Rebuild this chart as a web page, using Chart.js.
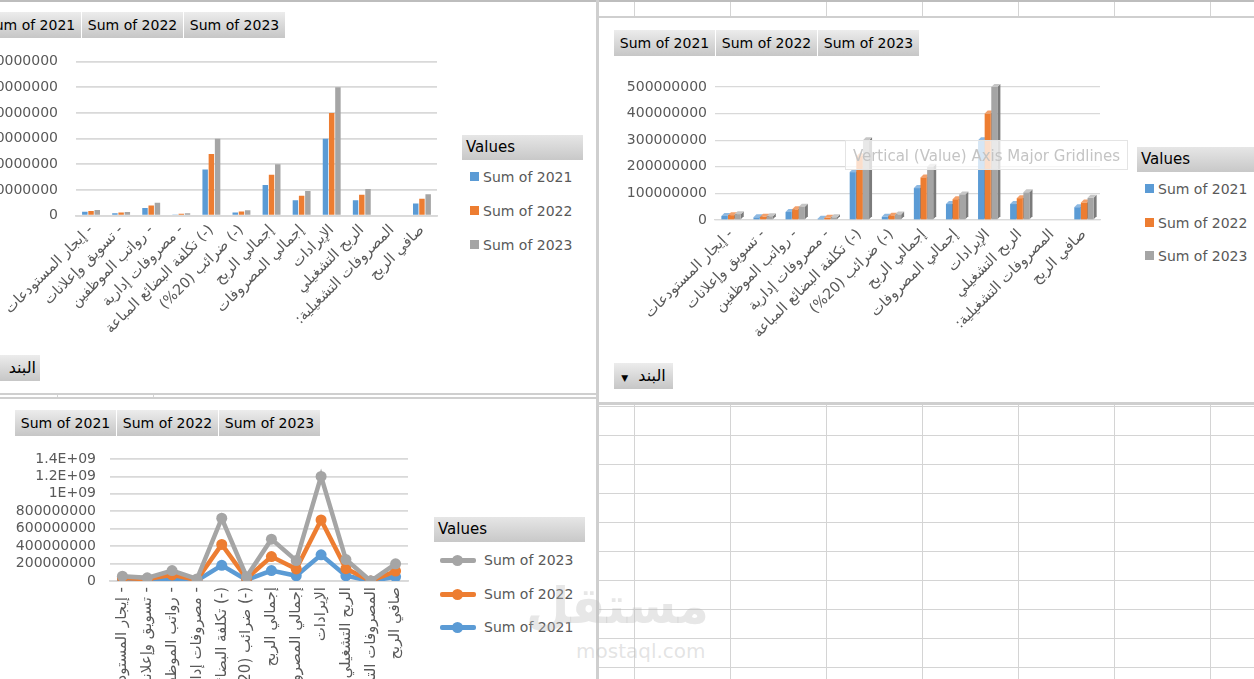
<!DOCTYPE html>
<html lang="ar">
<head>
<meta charset="utf-8">
<title>Pivot charts</title>
<script src="https://cdn.jsdelivr.net/npm/chart.js@4.4.1/dist/chart.umd.min.js"></script>
<style>
  html, body { margin: 0; padding: 0; }
  body {
    width: 1254px; height: 679px; position: relative; overflow: hidden;
    background: #fff; font-family: "DejaVu Sans", sans-serif;
  }
  .abs { position: absolute; }
  .line { position: absolute; background: #d4d4d4; }
  .btn {
    position: absolute; height: 26px; line-height: 26px; font-size: 14px; color: #000;
    background: linear-gradient(#ececec, #c6c6c6); white-space: nowrap;
    box-sizing: border-box; text-align: center;
  }
  .legend-head {
    position: absolute; height: 25px; line-height: 25px; font-size: 15px; color: #000;
    background: linear-gradient(#e6e6e6, #c8c8c8); padding-left: 4px; box-sizing: border-box;
  }
  .legend-item { position: absolute; font-size: 14px; color: #595959; white-space: nowrap; line-height: 18px; }
  .swatch { display: inline-block; width: 9px; height: 9px; margin-right: 4px; vertical-align: 1px; }
  .lineicon { display: inline-block; position: relative; width: 36px; height: 18px; vertical-align: top; margin-right: 8px; }
  .lineicon i { position: absolute; left: 0; top: 7px; width: 36px; height: 5px; border-radius: 2px; }
  .lineicon b { position: absolute; left: 12px; top: 4px; width: 11px; height: 11px; border-radius: 50%; }
  canvas { position: absolute; }
</style>
</head>
<body>

<div id="grid"></div>

<canvas id="barChart" dir="rtl" width="490" height="330" style="left:-40px; top:40px;"></canvas>
<canvas id="bar3dChart" dir="rtl" width="510" height="310" style="left:600px; top:70px;"></canvas>
<canvas id="lineChart" dir="rtl" width="420" height="260" style="left:0px; top:445px;"></canvas>

<div id="overlay"></div>

<script>
// Data
const categories = [
  '- إيجار المستودعات',
  '- تسويق وإعلانات',
  '- رواتب الموظفين',
  '- مصروفات إدارية',
  '(-) تكلفة البضائع المباعة',
  '(-) ضرائب (20%)',
  'إجمالي الربح',
  'إجمالي المصروفات',
  'الإيرادات',
  'الربح التشغيلي',
  'المصروفات التشغيلية:',
  'صافي الربح'
];
const seriesNames = ['Sum of 2021', 'Sum of 2022', 'Sum of 2023'];
const values2021 = [15e6, 10e6, 30e6, 5e6, 180e6, 12e6, 120e6, 60e6, 300e6, 60e6, 0, 48e6];
const values2022 = [18e6, 12e6, 40e6, 8e6, 240e6, 16.4e6, 160e6, 78e6, 400e6, 82e6, 0, 65.6e6];
const values2023 = [22e6, 14e6, 50e6, 10e6, 300e6, 20.8e6, 200e6, 96e6, 500e6, 104e6, 0, 83.2e6];
const seriesColors = ['#5b9bd5', '#ed7d31', '#a5a5a5'];
const sideColors = ['#3f78ab', '#b85d1e', '#7b7b7b'];
const topColors = ['#8db9e2', '#f3a06a', '#c6c6c6'];
const barTicks = { min: 0, max: 600e6, step: 100e6 };
const bar3dTicks = { min: 0, max: 500e6, step: 100e6 };
const lineTicks = { min: 0, max: 1.4e9, step: 200e6 };

const FONT = '"DejaVu Sans", sans-serif';
const seriesValues = [values2021, values2022, values2023];

// ---------- sheet background: cells and chart frames ----------
function addLine(x, y, w, h, color) {
  const d = document.createElement('div');
  d.className = 'line';
  d.style.cssText = `left:${x}px;top:${y}px;width:${w}px;height:${h}px;` + (color ? `background:${color};` : '');
  document.getElementById('grid').appendChild(d);
}
// cell grid on the right side (top strip and lower block)
for (let x = 633.7; x < 1254; x += 96) {
  addLine(Math.round(x), 0, 1, 17);
  addLine(Math.round(x), 404, 1, 275);
}
for (let y = 406; y < 679; y += 29) addLine(599, y, 655, 1);
addLine(0, 0, 1254, 2, '#bdbdbd');
addLine(598, 16, 656, 2, '#cfcfcf');
addLine(596, 0, 3, 679, '#cfcfcf');
addLine(0, 393, 597, 2, '#cfcfcf');
addLine(0, 397, 597, 2, '#cfcfcf');
addLine(599, 402, 655, 3, '#cfcfcf');
addLine(57, 395, 1, 2);
addLine(153, 395, 1, 2);

// ---------- HTML parts: field buttons, legends ----------
const overlay = document.getElementById('overlay');
function addEl(cls, x, y, w, html, extra) {
  const d = document.createElement('div');
  d.className = cls;
  d.style.left = x + 'px';
  d.style.top = y + 'px';
  if (w) d.style.width = w + 'px';
  if (extra) d.style.cssText += extra;
  d.innerHTML = html;
  overlay.appendChild(d);
  return d;
}
function fieldButtons(x, y) {
  seriesNames.forEach((name, i) => addEl('btn', x + i * 102, y, 101, name));
}
fieldButtons(-20, 12);
fieldButtons(614, 30);
fieldButtons(15, 410);

addEl('btn', -10, 355, 50, 'البند', 'font-size:16px;text-align:right;padding-right:4px;');
addEl('btn', 614, 363, 59, '<span style="font-size:9px;">&#9660;</span>&nbsp; البند', 'font-size:16px;direction:ltr;');

function squareLegend(x, y, w, step) {
  addEl('legend-head', x, y, w, 'Values');
  seriesNames.forEach((name, i) => {
    addEl('legend-item', x + 8, y + 33 + i * step, 0,
      `<span class="swatch" style="background:${seriesColors[i]}"></span>${name}`);
  });
}
squareLegend(462, 135, 121, 34);
squareLegend(1137, 147, 130, 33.5);

addEl('legend-head', 434, 517, 151, 'Values');
[2, 1, 0].forEach((s, k) => {
  addEl('legend-item', 440, 551 + k * 33.5, 0,
    `<span class="lineicon"><i style="background:${seriesColors[s]}"></i><b style="background:${seriesColors[s]}"></b></span>${seriesNames[s]}`);
});

// hover tip left on the 3D chart
addEl('abs', 845, 140, 283, 'Vertical (Value) Axis Major Gridlines',
  'height:30px;line-height:30px;font-size:15px;color:#c4c4c4;background:rgba(255,255,255,0.75);' +
  'border:1px solid #e4e4e4;box-sizing:border-box;text-align:center;white-space:nowrap;');

// watermark
addEl('abs', 526, 576, 162, 'مستقل',
  'font-size:50px;font-weight:bold;color:rgba(185,185,185,0.35);text-align:right;line-height:60px;');
addEl('abs', 576, 637, 140, 'mostaql.com',
  'font-size:20px;color:rgba(185,185,185,0.4);line-height:28px;');

// ---------- charts ----------
const numberTick = v => String(v);

function valueAxis(t, width, pad, lw, callback) {
  return {
    min: t.min, max: t.max,
    ticks: { stepSize: t.step, autoSkip: false, color: '#595959', font: { family: FONT, size: 14 }, padding: pad, callback: callback || numberTick },
    grid: { color: '#d9d9d9', lineWidth: lw, drawTicks: false },
    border: { display: false },
    afterFit(scale) {
      scale.width = width;
      // tick padding should not push the plot area down
      scale.paddingTop = 6;
      scale.paddingBottom = 6;
    }
  };
}
function categoryAxis(rotation, height, size, lw) {
  return {
    grid: { display: false, drawTicks: false },
    border: { color: '#d9d9d9', width: lw },
    ticks: { color: '#595959', font: { family: FONT, size: size }, minRotation: rotation, maxRotation: rotation, autoSkip: false, padding: 6 },
    afterFit(scale) { scale.height = height; }
  };
}
const common = {
  responsive: false,
  animation: false,
  plugins: { legend: { display: false }, tooltip: { enabled: false } }
};

// Clustered column chart (top left)
new Chart(document.getElementById('barChart'), {
  type: 'bar',
  data: {
    labels: categories,
    datasets: seriesNames.map((name, i) => ({
      label: name,
      data: seriesValues[i],
      backgroundColor: seriesColors[i],
      categoryPercentage: 0.62,
      barPercentage: 0.88
    }))
  },
  options: Object.assign({}, common, {
    layout: { padding: { left: 0, right: 13, top: 21.7, bottom: 0 } },
    scales: {
      x: categoryAxis(45, 154.3, 14.5, 1.8),
      y: valueAxis(barTicks, 116, 18, 1.8)
    }
  })
});

// 3D looking clustered column chart (top right)
const bar3d = {
  id: 'bar3d',
  beforeDatasetsDraw(chart) {
    const ctx = chart.ctx;
    const d = 3;
    ctx.save();
    chart.data.datasets.forEach((ds, i) => {
      chart.getDatasetMeta(i).data.forEach(bar => {
        const p = bar.getProps(['x', 'y', 'base', 'width'], true);
        if (p.base - p.y < 0.5) return;
        const l = p.x - p.width / 2, r = p.x + p.width / 2;
        ctx.fillStyle = sideColors[i];
        ctx.beginPath();
        ctx.moveTo(r, p.y); ctx.lineTo(r + d, p.y - d); ctx.lineTo(r + d, p.base - d); ctx.lineTo(r, p.base);
        ctx.closePath(); ctx.fill();
        ctx.fillStyle = topColors[i];
        ctx.beginPath();
        ctx.moveTo(l, p.y); ctx.lineTo(l + d, p.y - d); ctx.lineTo(r + d, p.y - d); ctx.lineTo(r, p.y);
        ctx.closePath(); ctx.fill();
      });
    });
    ctx.restore();
  }
};
new Chart(document.getElementById('bar3dChart'), {
  type: 'bar',
  data: {
    labels: categories,
    datasets: seriesNames.map((name, i) => ({
      label: name,
      data: seriesValues[i],
      backgroundColor: seriesColors[i],
      categoryPercentage: 0.62,
      barPercentage: 0.92
    }))
  },
  options: Object.assign({}, common, {
    layout: { padding: { left: 0, right: 10, top: 17, bottom: 0 } },
    scales: {
      x: categoryAxis(45, 160, 14.5, 1.3),
      y: valueAxis(bar3dTicks, 115, 8, 1.3)
    }
  }),
  plugins: [bar3d]
});

// Excel draws the later series on top of the earlier ones
const drawInIndexOrder = {
  id: 'drawInIndexOrder',
  beforeDatasetsDraw(chart) {
    for (let i = 0; i < chart.data.datasets.length; i++) {
      chart._drawDataset(chart.getDatasetMeta(i));
    }
    return false;
  }
};

// Stacked line chart (bottom left)
new Chart(document.getElementById('lineChart'), {
  type: 'line',
  data: {
    labels: categories,
    datasets: seriesNames.map((name, i) => ({
      label: name,
      data: seriesValues[i],
      borderColor: seriesColors[i],
      backgroundColor: seriesColors[i],
      borderWidth: 4.5,
      pointRadius: 5.5,
      pointBorderWidth: 0,
      fill: false,
      tension: 0
    }))
  },
  options: Object.assign({}, common, {
    layout: { padding: { left: 0, right: 10, top: 14, bottom: 0 } },
    scales: {
      x: Object.assign(categoryAxis(90, 124, 15, 1.8), { offset: true }),
      y: Object.assign(valueAxis(lineTicks, 110, 14, 1.8, v => v >= 1e9 ? (v / 1e9) + 'E+09' : String(v)), { stacked: true })
    }
  }),
  plugins: [drawInIndexOrder]
});
</script>
</body>
</html>
